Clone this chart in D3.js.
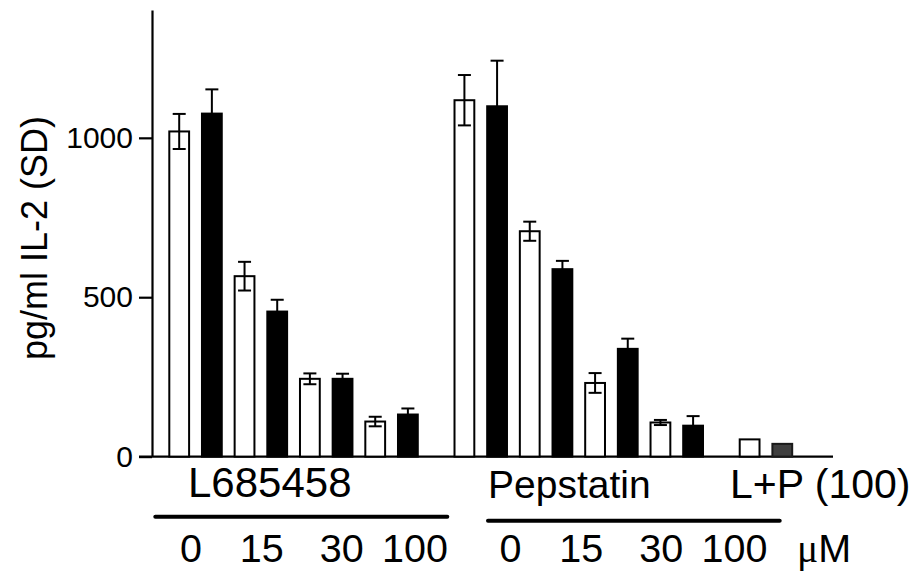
<!DOCTYPE html>
<html>
<head>
<meta charset="utf-8">
<script src="https://cdn.jsdelivr.net/npm/d3@7"></script>
<style>
  html, body { margin: 0; padding: 0; background: #fff; }
  svg { display: block; font-family: "Liberation Sans", Arial, Helvetica, sans-serif; }
</style>
</head>
<body>
<svg id="chart" width="923" height="576"></svg>
<script>
// ---- data ----
const groups = ["L685458", "Pepstatin", "L+P (100)"];
const doses = ["0", "15", "30", "100"];
const unitPrefix = "μ";
const unitBase = "M";
const yTicks = [0, 500, 1000];
const yTitle = "pg/ml IL-2 (SD)";

// L685458: open bars / filled bars at each dose
const lOpen = [1020, 566, 244, 110];
const lOpenSD = [55, 45, 17, 15];
const lFilled = [1076, 455, 244, 132];
const lFilledSD = [76, 37, 16, 19];
// Pepstatin
const pOpen = [1118, 707, 231, 107];
const pOpenSD = [79, 30, 31, 8];
const pFilled = [1099, 588, 338, 97];
const pFilledSD = [143, 26, 32, 30];
// L+P (100)
const lpValues = [54, 40];

// ---- build bar table ----
const bars = [];
[[lOpen, lOpenSD, lFilled, lFilledSD], [pOpen, pOpenSD, pFilled, pFilledSD]].forEach((g, gi) => {
  doses.forEach((d, di) => {
    bars.push({ group: gi, idx: di * 2, value: g[0][di], sd: g[1][di], kind: "open" });
    bars.push({ group: gi, idx: di * 2 + 1, value: g[2][di], sd: g[3][di], kind: "filled" });
  });
});
bars.push({ group: 2, idx: 0, value: lpValues[0], sd: null, kind: "open" });
bars.push({ group: 2, idx: 1, value: lpValues[1], sd: null, kind: "grey" });

// ---- layout ----
const svg = d3.select("#chart");
const groupStride = 8.73;
const slot = d => d.group * groupStride + d.idx;
const x = d3.scaleLinear().domain([0, 2 * groupStride + 1]).range([179.2, 179.2 + (2 * groupStride + 1) * 32.67]);
const y = d3.scaleLinear().domain([0, 1401]).range([456.6, 10]);
const barW = 19.8;
const capW = 13;

// x baseline
svg.append("line")
  .attr("x1", 139).attr("x2", 833)
  .attr("y1", y(0)).attr("y2", y(0))
  .attr("stroke", "#000").attr("stroke-width", 2.2);

// bars
const fills = { open: "#fff", filled: "#000", grey: "#3f3f3f" };
svg.append("g").selectAll("rect").data(bars).join("rect")
  .attr("x", d => x(slot(d)) - barW / 2)
  .attr("width", barW)
  .attr("y", d => y(d.value))
  .attr("height", d => y(0) - y(d.value))
  .attr("fill", d => fills[d.kind])
  .attr("stroke", d => d.kind === "grey" ? "#1a1a1a" : "#000")
  .attr("stroke-width", 2);

// error bars
const eb = svg.append("g").attr("stroke", "#000").attr("stroke-width", 2).attr("fill", "none");
bars.filter(d => d.sd != null).forEach(d => {
  const cx = x(slot(d));
  eb.append("line").attr("x1", cx).attr("x2", cx).attr("y1", y(d.value + d.sd)).attr("y2", y(d.value - d.sd));
  eb.append("line").attr("x1", cx - capW / 2).attr("x2", cx + capW / 2).attr("y1", y(d.value + d.sd)).attr("y2", y(d.value + d.sd));
  eb.append("line").attr("x1", cx - capW / 2).attr("x2", cx + capW / 2).attr("y1", y(d.value - d.sd)).attr("y2", y(d.value - d.sd));
});

// y axis
const yAxis = svg.append("g")
  .attr("transform", "translate(152,0)")
  .call(d3.axisLeft(y).tickValues(yTicks).tickSize(13).tickSizeOuter(0).tickPadding(6).tickFormat(d3.format("d")));
yAxis.select(".domain").attr("stroke-width", 2.2);
yAxis.selectAll(".tick line").attr("stroke-width", 2.2);
yAxis.selectAll(".tick text")
  .attr("font-size", 30)
  .attr("font-family", "'Liberation Sans', Arial, sans-serif")
  .attr("fill", "#000");

// y title
svg.append("text")
  .attr("transform", "translate(47,238) rotate(-90)")
  .attr("text-anchor", "middle")
  .attr("font-size", 36)
  .attr("fill", "#000")
  .text(yTitle);

// group labels
const groupLabelPos = [{ x: 188, y: 497, s: 42 }, { x: 488, y: 498, s: 39 }, { x: 730, y: 498, s: 41 }];
svg.append("g").selectAll("text").data(groups).join("text")
  .attr("x", (d, i) => groupLabelPos[i].x)
  .attr("y", (d, i) => groupLabelPos[i].y)
  .attr("font-size", (d, i) => groupLabelPos[i].s)
  .attr("fill", "#000")
  .text(d => d);

// underlines
const underlines = [{ x1: 155.3, x2: 447.3, y: 516.7 }, { x1: 488, x2: 779.7, y: 520.7 }];
svg.append("g").selectAll("line").data(underlines).join("line")
  .attr("x1", d => d.x1).attr("x2", d => d.x2)
  .attr("y1", d => d.y).attr("y2", d => d.y)
  .attr("stroke", "#000").attr("stroke-width", 4).attr("stroke-linecap", "round");

// dose labels
const doseCenters = [191, 261.7, 341.7, 415];
const groupShift = [0, 319.5];
const doseLabels = [];
groupShift.forEach(s => doses.forEach((d, i) => doseLabels.push({ t: d, x: doseCenters[i] + s })));
svg.append("g").selectAll("text").data(doseLabels).join("text")
  .attr("x", d => d.x)
  .attr("y", 561.7)
  .attr("text-anchor", "middle")
  .attr("font-size", 39.5)
  .attr("fill", "#000")
  .text(d => d.t);

const unitText = svg.append("text")
  .attr("x", 797)
  .attr("y", 561.7)
  .attr("font-size", 39.5)
  .attr("fill", "#000");
unitText.append("tspan")
  .attr("font-family", "'Liberation Serif', 'Times New Roman', serif")
  .text(unitPrefix);
unitText.append("tspan").text(unitBase);
</script>
</body>
</html>
